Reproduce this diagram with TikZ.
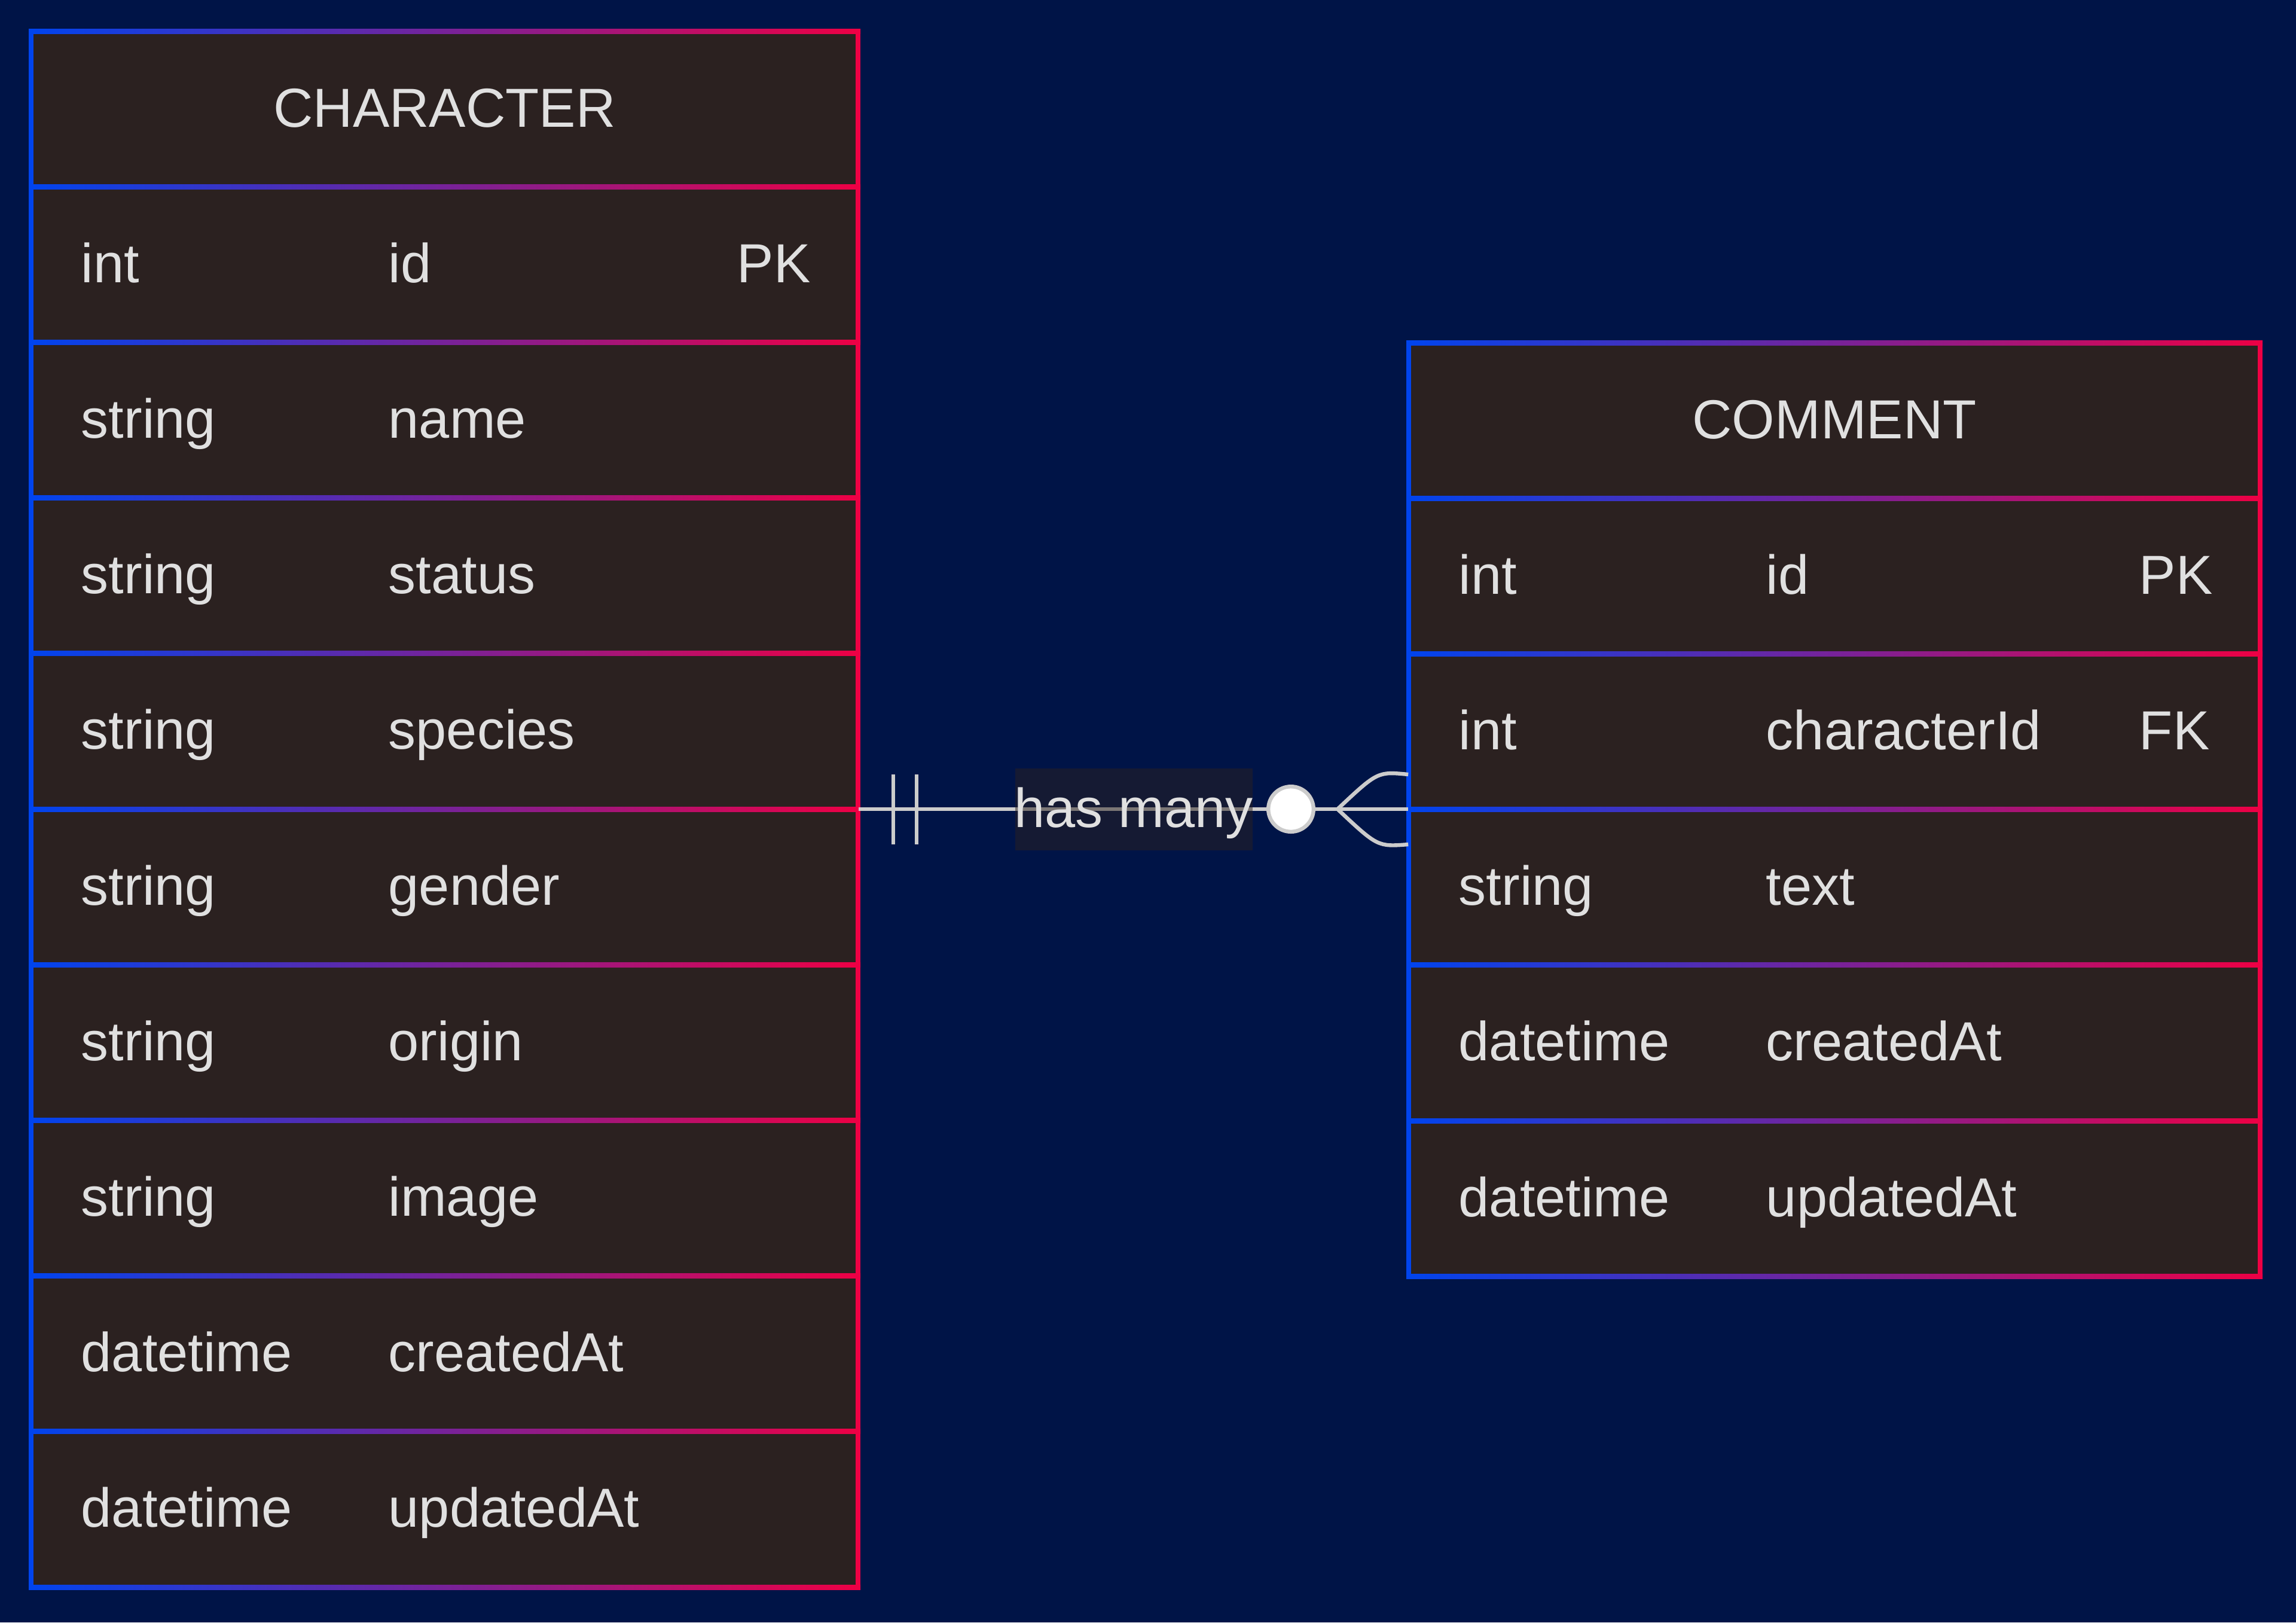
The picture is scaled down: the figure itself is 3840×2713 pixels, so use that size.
\documentclass[tikz,border=0pt]{standalone}
\usepackage{fontspec}
\setmainfont{Liberation Sans}
\usetikzlibrary{fit}
\definecolor{bg}{HTML}{001447}
\definecolor{entfill}{HTML}{2B2120}
\definecolor{eblue}{HTML}{0044EE}
\definecolor{ered}{HTML}{EE0044}
\definecolor{txt}{HTML}{E0E0E0}
\definecolor{lineg}{HTML}{CCCCCC}
\tikzset{
  cell/.style={inner sep=0pt, text=txt, anchor=base west},
  titletext/.style={inner sep=0pt, text=txt, anchor=base},
  entbox/.style={inner sep=0pt, fill=entfill},
  rel/.style={draw=lineg, line width=1.6pt},
  labelbox/.style={fill=entfill, fill opacity=0.5, inner sep=0pt, minimum width=99.25pt, minimum height=34.25pt},
  zerocirc/.style={circle, draw=lineg, fill=white, line width=1.6pt, minimum size=18.9pt, inner sep=0pt},
  hdiv/.style={left color=eblue, right color=ered},
}
\begin{document}
\begin{tikzpicture}[x=0.25pt,y=-0.25pt,font=\fontsize{23}{27}\selectfont]
\fill[bg] (0,0) rectangle (3840,2713);
\useasboundingbox (0,0) rectangle (3840,2713);

% ---------- CHARACTER ----------
\node[entbox, fit={(52,52) (1435,2654)}] (character) {};
\foreach \j in {0,...,10}
  \shade[hdiv] (48,{52+\j*260.2-4}) rectangle (1439,{52+\j*260.2+4});
\fill[eblue] (48,48) rectangle (56,2658);
\fill[ered] (1431,48) rectangle (1439,2658);
\node[titletext] (charTitle) at (743.5,{52+0.5*260.2+30}) {CHARACTER};
\foreach \t/\n [count=\i] in {int/id,string/name,string/status,string/species,string/gender,string/origin,string/image,datetime/createdAt,datetime/updatedAt}{
  \node[cell] (charType\i) at (135,{52+(\i+0.5)*260.2+30}) {\t};
  \node[cell] (charName\i) at (649,{52+(\i+0.5)*260.2+30}) {\n};
}
\node[cell] (charKey1) at (1232,{52+1.5*260.2+30}) {PK};

% ---------- COMMENT ----------
\node[entbox, fit={(2356,573) (3780,2134)}] (comment) {};
\foreach \j in {0,...,6}
  \shade[hdiv] (2352,{573+\j*260.2-4}) rectangle (3784,{573+\j*260.2+4});
\fill[eblue] (2352,569) rectangle (2360,2138);
\fill[ered] (3776,569) rectangle (3784,2138);
\node[titletext] (comTitle) at (3068,{573+0.5*260.2+30}) {COMMENT};
\foreach \t/\n [count=\i] in {int/id,int/characterId,string/text,datetime/createdAt,datetime/updatedAt}{
  \node[cell] (comType\i) at (2439,{573+(\i+0.5)*260.2+30}) {\t};
  \node[cell] (comName\i) at (2953,{573+(\i+0.5)*260.2+30}) {\n};
}
\node[cell] (comKey1) at (3577,{573+1.5*260.2+30}) {PK};
\node[cell] (comKey2) at (3577,{573+2.5*260.2+30}) {FK};

% ---------- relationship ----------
\coordinate (relY) at (0,1353);
\draw[rel] (character.east |- relY) -- (comment.west |- relY);
\node[labelbox] (relLabel) at (1896.5,1353.5) {};
\node[titletext] (relText) at (1896,1383) {has many};
% exactly one
\coordinate (barA) at (1494,1295);
\coordinate (barB) at (1533,1295);
\draw[rel] (barA) -- (barA |- 0,1412);
\draw[rel] (barB) -- (barB |- 0,1412);
% zero or many
\node[zerocirc] (zeroMark) at (2159,1353) {};
\coordinate (crowTip) at (2237,1353);
\draw[rel] (crowTip) .. controls (2304,1290) .. (comment.west |- 0,1295);
\draw[rel] (crowTip) .. controls (2304,1416) .. (comment.west |- 0,1412);
\end{tikzpicture}
\end{document}
